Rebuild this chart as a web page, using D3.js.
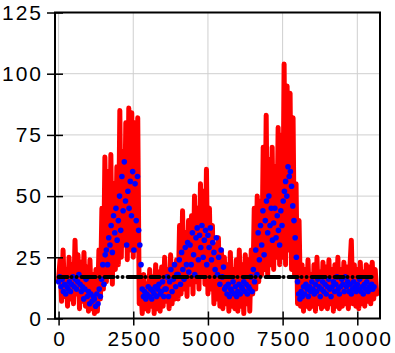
<!DOCTYPE html>
<html>
<head>
<meta charset="utf-8">
<script src="https://d3js.org/d3.v7.min.js"></script>
<style>
  html, body { margin: 0; padding: 0; background: #fff; }
  .tick text { font-family: "Liberation Sans", Arial, sans-serif; font-size: 21px; letter-spacing: 2px; fill: #000; }
</style>
</head>
<body>
<div id="chart"></div>
<script>
// raw signal, one value every 50 samples
const rawStep = 50;
const rawValues = [
  16, 24, 7, 28, 9, 20, 5, 25, 8, 22,
  6, 32, 10, 26, 4, 23, 7, 27, 5, 21,
  3, 24, 4, 18, 2, 20, 3, 28, 8, 45,
  12, 66, 15, 60, 18, 67, 14, 55, 20, 62,
  22, 85, 25, 68, 30, 80, 24, 86, 28, 84,
  25, 80, 28, 82, 6, 15, 2, 18, 4, 14,
  3, 20, 5, 17, 2, 22, 4, 19, 3, 21,
  5, 25, 7, 20, 4, 26, 6, 22, 8, 24,
  8, 38, 10, 44, 12, 35, 9, 40, 14, 42,
  10, 50, 15, 45, 12, 55, 18, 52, 14, 61,
  10, 45, 12, 38, 6, 30, 8, 33, 5, 28,
  4, 25, 6, 22, 3, 27, 5, 20, 4, 24,
  3, 28, 5, 22, 2, 26, 6, 24, 3, 28,
  10, 45, 12, 50, 15, 48, 18, 70, 20, 83,
  18, 65, 22, 70, 20, 62, 25, 78, 22, 75,
  25, 104, 22, 95, 28, 92, 20, 82, 18, 55,
  6, 40, 5, 22, 3, 20, 5, 24, 4, 18,
  5, 22, 3, 25, 6, 19, 4, 23, 5, 21,
  4, 24, 6, 20, 3, 22, 5, 25, 4, 20,
  5, 23, 6, 21, 4, 20, 32, 6, 22, 5,
  20, 4, 23, 6, 19, 5, 22, 7, 21, 6,
  23, 8, 20, 10
];

// filtered signal, one value every 40 samples
const filtStep = 40;
const filtValues = [
  15, 17, 13, 16, 11, 14, 10, 13, 12, 15,
  11, 14, 17, 13, 16, 12, 15, 18, 14, 11,
  13, 8, 12, 16, 9, 11, 6, 10, 7, 9,
  8, 5, 10, 6, 12, 9, 16, 22, 14, 26,
  28, 22, 33, 30, 38, 27, 42, 35, 45, 32,
  40, 50, 36, 58, 44, 64, 48, 30, 52, 45,
  56, 42, 60, 28, 55, 40, 58, 36, 30, 22,
  12, 9, 11, 8, 10, 13, 9, 12, 8, 11,
  10, 13, 9, 12, 14, 10, 11, 15, 9, 12,
  12, 17, 9, 15, 20, 11, 16, 22, 13, 18,
  18, 24, 14, 27, 20, 16, 29, 22, 31, 19,
  30, 22, 35, 26, 18, 33, 37, 24, 34, 29,
  38, 25, 32, 36, 22, 34, 29, 37, 24, 31,
  27, 20, 33, 18, 25, 14, 28, 17, 21, 12,
  13, 10, 14, 9, 12, 11, 15, 10, 13, 9,
  11, 14, 10, 13, 12, 15, 11, 14, 10, 13,
  12, 17, 11, 20, 15, 28, 18, 35, 24, 38,
  30, 44, 26, 40, 48, 35, 50, 38, 45, 32,
  39, 45, 33, 42, 36, 30, 44, 38, 48, 52,
  56, 50, 62, 58, 60, 54, 46, 40, 33, 25,
  15, 10, 8, 11, 9, 13, 10, 14, 12, 9,
  13, 11, 15, 12, 10, 14, 11, 16, 13, 9,
  12, 15, 11, 14, 10, 13, 16, 12, 9, 13,
  15, 11, 14, 17, 12, 10, 13, 16, 14, 11,
  17, 13, 15, 11, 14, 10, 12, 15, 13, 11,
  14, 12, 16, 11, 13, 10, 14, 12, 15, 11,
  13, 12, 14, 12, 13
];

// threshold level
const thresholdValue = 17;
const thresholdSpan = [0, 10530];

const xTicks = [0, 2500, 5000, 7500, 10000];
const yTicks = [0, 25, 50, 75, 100, 125];

document.addEventListener('DOMContentLoaded', function () {
    const width = 395, height = 353;
    const plot = {left: 55, right: 380, top: 12.5, bottom: 318.5};

    const svg = d3.select("#chart").append("svg")
        .attr("width", width)
        .attr("height", height);

    const x = d3.scaleLinear().domain([-120, 10760]).range([plot.left, plot.right]);
    const y = d3.scaleLinear().domain([0, 125]).range([plot.bottom, plot.top]);

    // grid
    svg.append("g").selectAll("line")
        .data(xTicks).enter().append("line")
        .attr("x1", d => x(d)).attr("x2", d => x(d))
        .attr("y1", plot.top).attr("y2", plot.bottom)
        .attr("stroke", "#cfcfcf").attr("stroke-width", 1);
    svg.append("g").selectAll("line")
        .data(yTicks).enter().append("line")
        .attr("x1", plot.left).attr("x2", plot.right)
        .attr("y1", d => y(d)).attr("y2", d => y(d))
        .attr("stroke", "#cfcfcf").attr("stroke-width", 1);

    // red raw signal
    const rawLine = d3.line()
        .x((d, i) => x(i * rawStep))
        .y(d => y(d));
    svg.append("path")
        .datum(rawValues)
        .attr("d", rawLine)
        .attr("fill", "none")
        .attr("stroke", "#ff0000")
        .attr("stroke-width", 5)
        .attr("stroke-linejoin", "round")
        .attr("stroke-linecap", "round");

    // blue filtered points
    svg.append("g").selectAll("circle")
        .data(filtValues).enter().append("circle")
        .attr("cx", (d, i) => x(i * filtStep))
        .attr("cy", d => y(d))
        .attr("r", 2.8)
        .attr("fill", "#0000ff");

    // black threshold
    svg.append("line")
        .attr("x1", x(thresholdSpan[0])).attr("x2", x(thresholdSpan[1]))
        .attr("y1", y(thresholdValue)).attr("y2", y(thresholdValue))
        .attr("stroke", "#000")
        .attr("stroke-width", 4)
        .attr("stroke-linecap", "round")
        .attr("stroke-dasharray", "9,4,0,5,0,5,14,4,0,5");

    // axes
    const yAxis = svg.append("g")
        .attr("transform", `translate(${plot.left},0)`)
        .call(d3.axisLeft(y).tickValues(yTicks).tickFormat(d3.format("d")).tickSize(8).tickPadding(6));
    yAxis.selectAll(".tick line").attr("x1", 8).attr("stroke-width", 1.5);
    yAxis.selectAll(".tick text").attr("dx", "2px");

    const xAxis = svg.append("g")
        .attr("transform", `translate(0,${plot.bottom})`)
        .call(d3.axisBottom(x).tickValues(xTicks).tickFormat(d3.format("d")).tickSize(7).tickPadding(6));
    xAxis.selectAll(".tick line").attr("y1", -7).attr("stroke-width", 1.5);
    xAxis.selectAll(".tick text").attr("dx", "1px");

    svg.selectAll(".domain").remove();

    // frame
    svg.append("rect")
        .attr("x", plot.left).attr("y", plot.top)
        .attr("width", plot.right - plot.left)
        .attr("height", plot.bottom - plot.top)
        .attr("fill", "none")
        .attr("stroke", "#000")
        .attr("stroke-width", 2);
});
</script>
</body>
</html>
